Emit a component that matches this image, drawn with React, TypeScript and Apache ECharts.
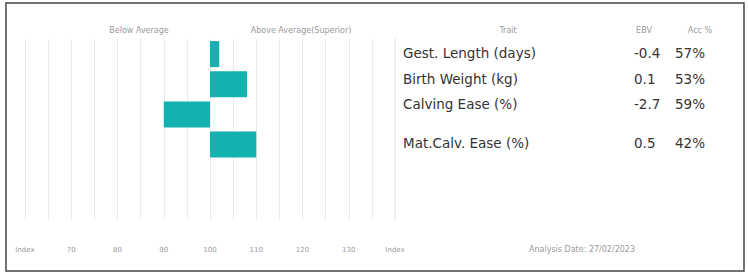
import React, { useEffect, useRef } from "react";
import * as echarts from "echarts";

const traits = ["Gest. Length (days)", "Birth Weight (kg)", "Calving Ease (%)", "Mat.Calv. Ease (%)"];
const indexValues = [102, 108, 90, 110];
const ebvValues = ["-0.4", "0.1", "-2.7", "0.5"];
const accValues = ["57%", "53%", "59%", "42%"];
const rowSlots = ["a", "b", "c", "d", "e", "f"];
const analysisDate = "27/02/2023";

const TEAL = "#13B2AE";
const AVERAGE = 100;

export default function App() {
  const ref = useRef<HTMLDivElement>(null);
  useEffect(() => {
    if (!ref.current) return;
    const chart = echarts.init(ref.current, undefined, { renderer: "svg" });
    const base = indexValues.map((v) => Math.min(v, AVERAGE));
    const delta = indexValues.map((v) => Math.abs(v - AVERAGE));
    const textRowsY = [53, 79, 104, 143];
    const small = { fontSize: 8, fill: "#9a9a9a", align: "center", verticalAlign: "middle", fontFamily: "DejaVu Sans" };
    const graphic: any[] = [
      { type: "rect", shape: { x: 6, y: 3, width: 738, height: 268 }, style: { fill: "none", stroke: "#444", lineWidth: 1.5 }, silent: true },
      { type: "line", shape: { x1: 395, y1: 38, x2: 395, y2: 220 }, style: { stroke: "#e6e6e6", lineWidth: 1 } },
      { type: "text", x: 139, y: 30, style: { ...small, text: "Below Average" } },
      { type: "text", x: 301, y: 30, style: { ...small, text: "Above Average(Superior)" } },
      { type: "text", x: 508, y: 30, style: { ...small, text: "Trait" } },
      { type: "text", x: 644, y: 30, style: { ...small, text: "EBV" } },
      { type: "text", x: 700, y: 30, style: { ...small, text: "Acc %" } },
      { type: "text", x: 582, y: 249, style: { ...small, text: "Analysis Date: " + analysisDate } },
    ];
    traits.forEach((t, i) => {
      const y = textRowsY[i];
      const st = { fontSize: 13.5, fill: "#333", verticalAlign: "middle", fontFamily: "DejaVu Sans", align: "left" };
      graphic.push({ type: "text", x: 403, y, style: { ...st, text: t } });
      graphic.push({ type: "text", x: 634, y, style: { ...st, text: ebvValues[i] } });
      graphic.push({ type: "text", x: 675, y, style: { ...st, text: accValues[i] } });
    });
    chart.setOption({
      animation: false,
      grid: { left: 25, right: 353, top: 39, bottom: 54, containLabel: false },
      xAxis: {
        type: "value",
        min: 60,
        max: 140,
        interval: 5,
        axisLine: { show: false },
        axisTick: { show: false },
        splitLine: { show: true, lineStyle: { color: "#ebebeb", width: 1 } },
        axisLabel: {
          margin: 26,
          fontSize: 7,
          color: "#9a9a9a",
          fontFamily: "DejaVu Sans",
          showMinLabel: true,
          showMaxLabel: true,
          formatter: (v: number) => (v === 60 || v === 140 ? "Index" : v % 10 === 0 ? String(v) : ""),
        },
      },
      yAxis: {
        type: "category",
        inverse: true,
        data: rowSlots,
        axisLine: { show: false },
        axisTick: { show: false },
        axisLabel: { show: false },
        splitLine: { show: false },
      },
      series: [
        {
          type: "bar",
          stack: "idx",
          data: base,
          barWidth: 26,
          itemStyle: { color: "transparent" },
          silent: true,
        },
        {
          type: "bar",
          stack: "idx",
          data: delta,
          barWidth: 26,
          itemStyle: { color: TEAL },
        },
      ],
      graphic,
    });
    return () => chart.dispose();
  }, []);
  return <div ref={ref} style={{ width: 748, height: 274, position: "absolute", left: 0, top: 0 }} />;
}
